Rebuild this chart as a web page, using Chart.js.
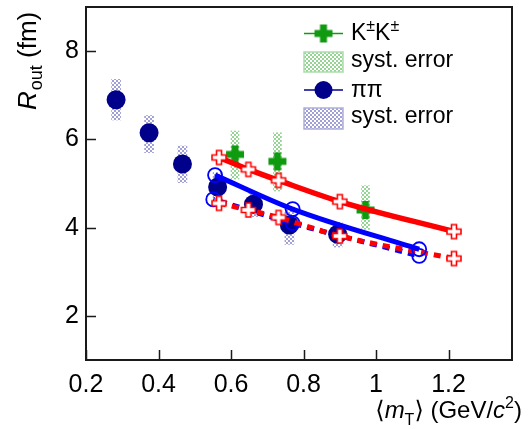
<!DOCTYPE html>
<html>
<head>
<meta charset="utf-8">
<script src="https://cdn.jsdelivr.net/npm/chart.js@4.4.1/dist/chart.umd.min.js"></script>
<style>
  html, body { margin: 0; padding: 0; background: #fff; }
</style>
</head>
<body>
<canvas id="myChart" width="531" height="429"></canvas>
<script>
// pi-pi data points and their systematic error boxes
var pionX = [0.283, 0.374, 0.466, 0.563, 0.662, 0.761, 0.894];
var pionY = [6.90, 6.15, 5.44, 4.92, 4.53, 4.06, 3.85];
var pionSysLo = [6.44, 5.70, 5.02, 4.62, 4.25, 3.62, 3.56];
var pionSysHi = [7.36, 6.54, 5.85, 5.25, 4.80, 4.48, 4.12];

// K+-K+- data points and their systematic error boxes
var kaonX = [0.611, 0.728, 0.971];
var kaonY = [5.66, 5.50, 4.40];
var kaonSysLo = [5.10, 4.83, 3.96];
var kaonSysHi = [6.19, 6.15, 4.95];

// model curves (red crosses, blue circles)
var redX = [0.567, 0.648, 0.731, 0.900, 1.215];
var redSolidY = [5.59, 5.32, 5.07, 4.59, 3.91];
var redDashY = [4.55, 4.40, 4.23, 3.81, 3.30];
var blueSolidX = [0.556, 0.770, 1.119];
var blueSolidY = [5.19, 4.42, 3.51];
var blueDashX = [0.551, 0.770, 1.119];
var blueDashY = [4.64, 4.10, 3.36];

var xTicks = [0.2, 0.4, 0.6, 0.8, 1.0, 1.2];
var yTicks = [2, 4, 6, 8];

var FONT = "'Liberation Sans', 'DejaVu Sans', Arial, sans-serif";

function pts(xs, ys) {
  return xs.map(function (x, i) { return { x: x, y: ys[i] }; });
}
function boxes(xs, lo, hi) {
  return xs.map(function (x, i) { return { x: x, y: [lo[i], hi[i]] }; });
}

var canvas = document.getElementById("myChart");
var ctx = canvas.getContext("2d");

// checkered fill for the syst. error boxes
function hatch(color) {
  var c = document.createElement("canvas");
  c.width = 4; c.height = 4;
  var g = c.getContext("2d");
  g.fillStyle = "#ffffff";
  g.fillRect(0, 0, 4, 4);
  g.fillStyle = color;
  g.fillRect(0, 0, 2, 2);
  g.fillRect(2, 2, 2, 2);
  return ctx.createPattern(c, "repeat");
}
var greenHatch = hatch("rgb(150,212,150)");
var blueHatch = hatch("rgb(160,160,215)");

// plus-shaped marker images
function crossImg(size, arm, fill, stroke, lw) {
  var w = size + 4;
  var c = document.createElement("canvas");
  c.width = w; c.height = w;
  var g = c.getContext("2d");
  var h = w / 2, s = size / 2, a = arm / 2;
  g.beginPath();
  g.moveTo(h - a, h - s); g.lineTo(h + a, h - s); g.lineTo(h + a, h - a);
  g.lineTo(h + s, h - a); g.lineTo(h + s, h + a); g.lineTo(h + a, h + a);
  g.lineTo(h + a, h + s); g.lineTo(h - a, h + s); g.lineTo(h - a, h + a);
  g.lineTo(h - s, h + a); g.lineTo(h - s, h - a); g.lineTo(h - a, h - a);
  g.closePath();
  if (fill) { g.fillStyle = fill; g.fill(); }
  if (stroke) { g.strokeStyle = stroke; g.lineWidth = lw; g.stroke(); }
  return c;
}
var greenCross = crossImg(18, 7, "#109a10", null, 0);
var redCross = crossImg(14, 5, "#ffffff", "#ff0000", 1.6);

// draw a run of text pieces with different fonts / offsets
function richText(g, parts, x, y, measureOnly) {
  var cx = x;
  parts.forEach(function (p) {
    g.font = p.font;
    if (!measureOnly) g.fillText(p.t, cx, y + (p.dy || 0));
    cx += g.measureText(p.t).width + (p.kern || 0);
  });
  return cx - x;
}

var decorations = {
  id: "decorations",
  beforeDatasetsDraw: function (chart) {
    var g = chart.ctx, a = chart.chartArea;
    var xs = chart.scales.x, ys = chart.scales.y;
    g.save();
    g.strokeStyle = "#1a1a1a";
    g.lineWidth = 2;
    g.strokeRect(a.left, a.top, a.right - a.left, a.bottom - a.top);
    g.beginPath();
    xTicks.forEach(function (v) {
      var px = Math.round(xs.getPixelForValue(v)) + 0.5;
      g.moveTo(px, a.bottom); g.lineTo(px, a.bottom - 10);
    });
    yTicks.forEach(function (v) {
      var py = Math.round(ys.getPixelForValue(v)) + 0.5;
      g.moveTo(a.left, py); g.lineTo(a.left + 10, py);
    });
    g.lineWidth = 1.5;
    g.stroke();
    g.restore();
  },
  afterDraw: function (chart) {
    var g = chart.ctx;
    g.save();
    g.fillStyle = "#000";
    g.textBaseline = "alphabetic";
    g.textAlign = "left";

    // y axis title
    g.save();
    g.translate(36, 110);
    g.rotate(-Math.PI / 2);
    richText(g, [
      { t: "R", font: "italic 26px " + FONT, kern: 1 },
      { t: "out", font: "18px " + FONT, dy: 6 },
      { t: " (fm)", font: "26px " + FONT }
    ], 0, 0);
    g.restore();

    // x axis title, right aligned
    var xt = [
      { t: "\u27E8", font: "24px " + FONT },
      { t: "m", font: "italic 24px " + FONT },
      { t: "T", font: "16px " + FONT, dy: 7 },
      { t: "\u27E9", font: "24px " + FONT },
      { t: " (GeV/", font: "24px " + FONT },
      { t: "c", font: "italic 24px " + FONT },
      { t: "2", font: "16px " + FONT, dy: -10 },
      { t: ")", font: "24px " + FONT }
    ];
    var w = richText(g, xt, 0, 0, true);
    richText(g, xt, 522 - w, 418);

    // legend
    var lx0 = 304, lx1 = 343, tx = 351;
    // K+-K+-
    g.strokeStyle = "#109a10"; g.lineWidth = 1.5;
    g.beginPath(); g.moveTo(lx0, 33.5); g.lineTo(lx1, 33.5); g.stroke();
    g.drawImage(greenCross, (lx0 + lx1) / 2 - greenCross.width / 2, 33.5 - greenCross.height / 2);
    richText(g, [
      { t: "K", font: "23px " + FONT },
      { t: "\u00B1", font: "16px " + FONT, dy: -9 },
      { t: "K", font: "23px " + FONT },
      { t: "\u00B1", font: "16px " + FONT, dy: -9 }
    ], tx, 40);
    // green syst box
    g.fillStyle = greenHatch;
    g.fillRect(lx0, 52, lx1 - lx0, 20);
    g.strokeStyle = "rgb(170,222,170)"; g.lineWidth = 1.5;
    g.strokeRect(lx0, 52, lx1 - lx0, 20);
    g.fillStyle = "#000";
    g.font = "23px " + FONT;
    g.fillText("syst. error", tx, 67);
    // pi pi
    g.strokeStyle = "#00008b"; g.lineWidth = 1.5;
    g.beginPath(); g.moveTo(lx0, 90); g.lineTo(lx1, 90); g.stroke();
    g.fillStyle = "#00008b";
    g.beginPath(); g.arc((lx0 + lx1) / 2, 90, 9, 0, Math.PI * 2); g.fill();
    g.fillStyle = "#000";
    g.fillText("\u03C0\u03C0", tx, 97);
    // blue syst box
    g.fillStyle = blueHatch;
    g.fillRect(lx0, 108, lx1 - lx0, 21);
    g.strokeStyle = "rgb(175,175,222)"; g.lineWidth = 1.5;
    g.strokeRect(lx0, 108, lx1 - lx0, 21);
    g.fillStyle = "#000";
    g.fillText("syst. error", tx, 123);
    g.restore();
  }
};

var chart = new Chart(ctx, {
  type: "scatter",
  data: {
    datasets: [
      {
        type: "line", label: "red solid", data: pts(redX, redSolidY),
        borderColor: "#ff0000", borderWidth: 5.5, tension: 0.3, cubicInterpolationMode: "monotone",
        pointStyle: redCross, pointRadius: 7, order: 1
      },
      {
        type: "line", label: "blue solid", data: pts(blueSolidX, blueSolidY),
        borderColor: "#0000ff", borderWidth: 5, tension: 0.3, cubicInterpolationMode: "monotone",
        pointStyle: "circle", pointRadius: 7, pointBorderWidth: 1.8,
        pointBorderColor: "#0000ff", pointBackgroundColor: "rgba(0,0,0,0)", order: 2
      },
      {
        type: "line", label: "red dashed", data: pts(redX, redDashY),
        borderColor: "#ff0000", borderWidth: 5, borderDash: [7, 6], tension: 0.3,
        cubicInterpolationMode: "monotone",
        pointStyle: redCross, pointRadius: 7, order: 3
      },
      {
        type: "line", label: "blue dashed", data: pts(blueDashX, blueDashY),
        borderColor: "#0000ff", borderWidth: 5, borderDash: [7, 6], borderDashOffset: 6,
        tension: 0.3, cubicInterpolationMode: "monotone",
        pointStyle: "circle", pointRadius: 7, pointBorderWidth: 1.8,
        pointBorderColor: "#0000ff", pointBackgroundColor: "rgba(0,0,0,0)", order: 4
      },
      {
        label: "KK", data: pts(kaonX, kaonY),
        pointStyle: greenCross, pointRadius: 9, order: 5
      },
      {
        label: "pipi", data: pts(pionX, pionY),
        pointStyle: "circle", pointRadius: 9.5, pointBorderWidth: 0,
        pointBackgroundColor: "#00008b", pointBorderColor: "#00008b", order: 6
      },
      {
        type: "bar", label: "KK syst", data: boxes(kaonX, kaonSysLo, kaonSysHi),
        backgroundColor: greenHatch, borderWidth: 0, barThickness: 8, grouped: false, order: 7
      },
      {
        type: "bar", label: "pipi syst", data: boxes(pionX, pionSysLo, pionSysHi),
        backgroundColor: blueHatch, borderWidth: 0, barThickness: 9, grouped: false, order: 8
      }
    ]
  },
  options: {
    responsive: false,
    animation: false,
    events: [],
    layout: { autoPadding: false, padding: { top: 7, right: 19, left: 0, bottom: 0 } },
    plugins: { legend: { display: false }, tooltip: { enabled: false } },
    scales: {
      x: {
        type: "linear", min: 0.2, max: 1.375, offset: false,
        grid: { display: false, drawTicks: false },
        border: { display: false },
        afterBuildTicks: function (s) { s.ticks = xTicks.map(function (v) { return { value: v }; }); },
        afterFit: function (s) { s.height = 69; s.paddingLeft = 0; s.paddingRight = 0; },
        ticks: {
          color: "#000", padding: 10, maxRotation: 0, autoSkip: false,
          font: { family: FONT, size: 25 },
          callback: function (v) { return String(Math.round(v * 10) / 10); }
        }
      },
      y: {
        type: "linear", min: 1, max: 9,
        grid: { display: false, drawTicks: false },
        border: { display: false },
        afterBuildTicks: function (s) { s.ticks = yTicks.map(function (v) { return { value: v }; }); },
        afterFit: function (s) { s.width = 86; s.paddingTop = 0; s.paddingBottom = 0; },
        ticks: {
          color: "#000", padding: 7,
          font: { family: FONT, size: 25 },
          callback: function (v) { return String(v); }
        }
      }
    }
  },
  plugins: [decorations]
});
</script>
</body>
</html>
